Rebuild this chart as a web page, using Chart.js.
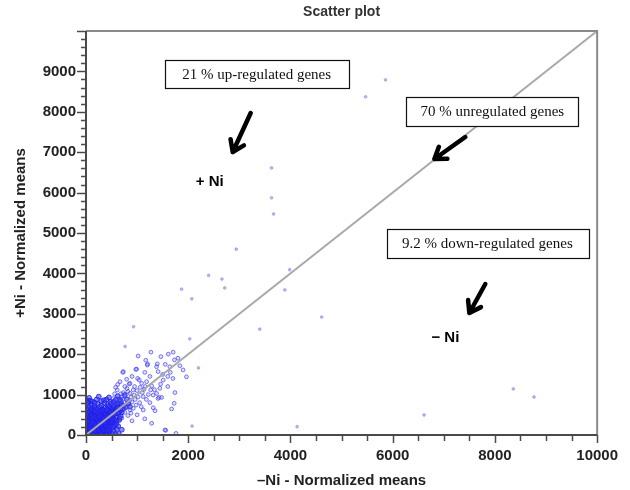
<!DOCTYPE html>
<html>
<head>
<meta charset="utf-8">
<script src="https://cdn.jsdelivr.net/npm/chart.js@4.4.1/dist/chart.umd.min.js"></script>
<style>
  html, body { margin: 0; padding: 0; background: #fff; }
  #wrap { width: 630px; height: 490px; }
</style>
</head>
<body>
<div id="wrap"><canvas id="chartScatter" width="630" height="490"></canvas></div>
<script>
// valores (-Ni en x, +Ni en y)
const diagX = [0, 10000];
const diagY = [0, 10000];

const xMajorTicks = [0, 2000, 4000, 6000, 8000, 10000];
const yMajorTicks = [0, 1000, 2000, 3000, 4000, 5000, 6000, 7000, 8000, 9000];

const outlierPoints = [
  [5860, 8790], [5470, 8370], [3630, 6610], [3630, 5870], [3670, 5470], [2940, 4600],
  [2400, 3950], [2660, 3860], [2715, 3640], [1870, 3610], [2070, 3370], [3985, 4090],
  [3890, 3590], [3400, 2620], [4610, 2920], [930, 2680], [2030, 2380], [765, 2190],
  [2200, 1660], [2075, 220], [4130, 205], [6615, 495], [8360, 1140], [8765, 940]
];

const spreadPoints = [
  [1705, 2050], [1610, 2000], [1465, 1940], [1730, 1860], [1395, 1760], [1380, 1690],
  [1640, 1690], [1835, 1715], [1900, 1610], [1410, 1570], [1965, 1440], [1510, 1360],
  [1285, 1215], [1445, 1155], [1380, 1030], [1480, 930], [1740, 1050], [1315, 675],
  [1675, 645], [1560, 115], [1760, 40], [1270, 2050], [1020, 1955], [1205, 1760],
  [1170, 1850], [730, 1570], [975, 1625], [1010, 1400], [1040, 1360], [795, 1380],
  [860, 1280], [1090, 1280], [1185, 1320], [925, 1115], [730, 1050], [1135, 1130],
  [1265, 1115], [1315, 990], [1430, 930], [700, 950], [1120, 950], [990, 1630],
  [1200, 1730], [720, 1550], [665, 1320], [845, 1260], [610, 1115], [860, 1030],
  [1410, 905], [1725, 785], [535, 905], [925, 660], [1120, 620], [1285, 290],
  [1545, 125], [1600, 1450], [1250, 1450], [900, 1450], [1050, 800], [850, 850],
  [780, 700], [1000, 500], [1150, 400], [1350, 600], [1600, 1200], [1700, 1400],
  [1800, 1900], [1500, 1500], [1150, 1550], [950, 1200], [800, 1150], [700, 800],
  [900, 350], [1250, 800], [1100, 1050], [1550, 1750],
  [620, 1250], [680, 1020], [760, 960], [820, 1080], [880, 940], [940, 990], [1000, 1100],
  [1060, 1180], [760, 1200], [560, 1020], [600, 900], [650, 850], [720, 880], [840, 760],
  [900, 820], [960, 880], [1020, 940], [1180, 880], [860, 620], [980, 740], [1080, 700],
  [760, 560], [820, 480], [700, 420], [880, 540], [1220, 1000], [1340, 1120], [580, 1180],
  [540, 760], [1460, 1260], [1160, 1200], [1650, 1550]
];

const corePoints = [
  [10, 20], [40, 10], [70, 50], [100, 20], [130, 60], [160, 10], [190, 40], [220, 70], [250, 20],
  [280, 50], [310, 10], [340, 40], [380, 20], [420, 30], [470, 10], [520, 40], [580, 20], [640, 30],
  [30, 70], [60, 90], [90, 80], [120, 95], [200, 90], [300, 85], [450, 80],
  [10, 120], [40, 150], [70, 130], [100, 170], [130, 120], [160, 180], [190, 140], [220, 110],
  [250, 170], [280, 130], [310, 190], [340, 150], [370, 110], [400, 170], [440, 130], [490, 160],
  [540, 120], [600, 150], [20, 190], [80, 190], [140, 160], [230, 190], [360, 180], [700, 130],
  [15, 230], [45, 260], [75, 220], [105, 280], [135, 240], [165, 270], [195, 220], [225, 290],
  [255, 240], [285, 270], [315, 220], [345, 280], [375, 240], [410, 270], [450, 230], [500, 280],
  [560, 250], [630, 220], [60, 290], [180, 300], [300, 300],
  [20, 330], [50, 370], [80, 320], [110, 360], [140, 330], [170, 390], [200, 350], [230, 320],
  [260, 380], [290, 340], [320, 390], [350, 330], [380, 370], [420, 340], [460, 390], [510, 350],
  [570, 320], [650, 370], [100, 400], [240, 400],
  [10, 430], [40, 470], [70, 420], [110, 450], [150, 490], [190, 430], [230, 470], [270, 420],
  [310, 460], [350, 490], [390, 430], [430, 470], [480, 420], [530, 480], [600, 440], [680, 470],
  [200, 500], [380, 500],
  [30, 530], [70, 580], [110, 540], [150, 570], [190, 520], [240, 590], [280, 540], [330, 570],
  [380, 530], [430, 580], [480, 540], [540, 590], [610, 530], [700, 560], [260, 500],
  [20, 640], [60, 690], [120, 620], [170, 670], [220, 630], [270, 690], [320, 640], [380, 680],
  [430, 630], [490, 670], [550, 630], [620, 690], [720, 640], [780, 690],
  [40, 740], [100, 780], [170, 720], [230, 770], [300, 730], [360, 790], [420, 740], [490, 780],
  [560, 730], [650, 770], [740, 730], [820, 780],
  [20, 860], [120, 830], [210, 880], [300, 840], [400, 880], [480, 820], [580, 870], [680, 840],
  [800, 880], [60, 920], [250, 950], [450, 930], [620, 960], [760, 990],
  [55, 45], [85, 35], [145, 85], [175, 65], [205, 15], [235, 45], [265, 85], [325, 65], [355, 95],
  [395, 55], [25, 105], [115, 135], [205, 125], [295, 155], [385, 145], [55, 205], [145, 215],
  [265, 205], [355, 215], [95, 245], [215, 255], [335, 255], [35, 305], [155, 305], [275, 315],
  [395, 305], [125, 375], [215, 385], [305, 365], [65, 355], [185, 445], [295, 435], [405, 415],
  [25, 15], [50, 60], [80, 100], [110, 55], [140, 30], [170, 120], [200, 170], [240, 140],
  [260, 60], [290, 100], [320, 130], [330, 200], [360, 250], [390, 200], [420, 230], [440, 300],
  [470, 270], [480, 340], [500, 410], [520, 320], [550, 380], [30, 400], [60, 450], [90, 500],
  [130, 420], [160, 460], [210, 410], [250, 450], [280, 480], [330, 430], [360, 410], [400, 460],
  [440, 510], [470, 560], [500, 500], [560, 520], [590, 600], [520, 660], [450, 700], [400, 620],
  [340, 610], [290, 600], [230, 560], [170, 600], [130, 660], [90, 620], [50, 560], [15, 500],
  [75, 260], [125, 300], [185, 260], [245, 300], [305, 260], [365, 300], [20, 280], [45, 330],
  [95, 140], [185, 90], [250, 110], [300, 50], [350, 120], [410, 110], [460, 200], [530, 200],
  [590, 270], [600, 360], [660, 420], [640, 560], [680, 620], [600, 640], [540, 700], [600, 760],
  [700, 740], [660, 880], [540, 820], [350, 860], [170, 800], [80, 850], [35, 800], [860, 700]
];

// cajas de texto y flechas (en unidades de los ejes)
const notas = [
  { texto: "21 % up-regulated genes", x0: 1543, x1: 5136, y0: 9281, y1: 8588 },
  { texto: "70 % unregulated genes", x0: 6269, x1: 9628, y0: 8366, y1: 7648 },
  { texto: "9.2 % down-regulated genes", x0: 5879, x1: 9824, y0: 5099, y1: 4381 }
];
const flechas = [
  { desde: [3222, 7970], hasta: [2871, 7004] },
  { desde: [7421, 7376], hasta: [6816, 6831] },
  { desde: [7812, 3737], hasta: [7500, 3020] }
];
const etiquetas = [
  { texto: "+ Ni", x: 2422, y: 6254 },
  { texto: "\u2212 Ni", x: 7031, y: 2393 }
];

function aPuntos(lista) {
  return lista.map(([x, y]) => ({ x, y }));
}

function dibujarFlecha(ctx, x1, y1, x2, y2) {
  const ang = Math.atan2(y2 - y1, x2 - x1);
  const largo = 13;
  ctx.beginPath();
  ctx.moveTo(x1, y1);
  ctx.lineTo(x2, y2);
  ctx.moveTo(x2 - largo * Math.cos(ang - 0.6), y2 - largo * Math.sin(ang - 0.6));
  ctx.lineTo(x2, y2);
  ctx.lineTo(x2 - largo * Math.cos(ang + 0.6), y2 - largo * Math.sin(ang + 0.6));
  ctx.stroke();
}

const extras = {
  id: "extras",
  afterDraw(chart) {
    const ctx = chart.ctx;
    const { left, right, top, bottom } = chart.chartArea;
    const sx = chart.scales.x;
    const sy = chart.scales.y;
    ctx.save();

    // marco
    ctx.lineWidth = 2;
    ctx.strokeStyle = "#8a8a8a";
    ctx.beginPath();
    ctx.moveTo(left, top);
    ctx.lineTo(right, top);
    ctx.lineTo(right, bottom);
    ctx.stroke();
    ctx.strokeStyle = "#4a4a4a";
    ctx.beginPath();
    ctx.moveTo(left, top);
    ctx.lineTo(left, bottom);
    ctx.lineTo(right, bottom);
    ctx.stroke();

    // marcas de los ejes
    ctx.lineWidth = 1.5;
    sx.ticks.forEach((t) => {
      const px = Math.round(sx.getPixelForValue(t.value)) + 0.5;
      const len = xMajorTicks.includes(t.value) ? 8 : 6;
      ctx.beginPath();
      ctx.moveTo(px, bottom);
      ctx.lineTo(px, bottom + len);
      ctx.stroke();
    });
    sy.ticks.forEach((t) => {
      const py = Math.round(sy.getPixelForValue(t.value)) + 0.5;
      const len = t.value % 1000 === 0 ? 9 : 5;
      ctx.beginPath();
      ctx.moveTo(left - len, py);
      ctx.lineTo(left, py);
      ctx.stroke();
    });

    // titulo
    ctx.fillStyle = "#333";
    ctx.font = "bold 14px 'Liberation Sans', Arial, sans-serif";
    ctx.textAlign = "center";
    ctx.textBaseline = "middle";
    ctx.fillText("Scatter plot", (left + right) / 2, 12);

    // cajas
    ctx.font = "15px 'Liberation Serif', 'Times New Roman', serif";
    notas.forEach((n) => {
      const x0 = sx.getPixelForValue(n.x0);
      const x1 = sx.getPixelForValue(n.x1);
      const y0 = sy.getPixelForValue(n.y0);
      const y1 = sy.getPixelForValue(n.y1);
      ctx.fillStyle = "#fff";
      ctx.fillRect(x0, y0, x1 - x0, y1 - y0);
      ctx.lineWidth = 1.2;
      ctx.strokeStyle = "#111";
      ctx.strokeRect(Math.round(x0) + 0.5, Math.round(y0) + 0.5, Math.round(x1 - x0), Math.round(y1 - y0));
      ctx.fillStyle = "#111";
      ctx.fillText(n.texto, (x0 + x1) / 2, (y0 + y1) / 2 + 1);
    });

    // flechas
    ctx.strokeStyle = "#000";
    ctx.lineWidth = 4.5;
    ctx.lineCap = "round";
    ctx.lineJoin = "round";
    flechas.forEach((f) => {
      dibujarFlecha(ctx,
        sx.getPixelForValue(f.desde[0]), sy.getPixelForValue(f.desde[1]),
        sx.getPixelForValue(f.hasta[0]), sy.getPixelForValue(f.hasta[1]));
    });

    ctx.fillStyle = "#000";
    ctx.font = "bold 15px 'Liberation Sans', Arial, sans-serif";
    etiquetas.forEach((e) => {
      ctx.fillText(e.texto, sx.getPixelForValue(e.x), sy.getPixelForValue(e.y));
    });

    ctx.restore();
  }
};

const fuenteEje = { family: "'Liberation Sans', Arial, sans-serif", size: 15, weight: "bold" };

new Chart(document.getElementById("chartScatter"), {
  type: "scatter",
  data: {
    datasets: [
      {
        type: "line",
        label: "diagonal",
        data: diagX.map((x, i) => ({ x, y: diagY[i] })),
        borderColor: "#a9a9a9",
        borderWidth: 2,
        pointRadius: 0,
        fill: false
      },
      {
        label: "outliers",
        data: aPuntos(outlierPoints),
        pointRadius: 1.4,
        borderWidth: 0.5,
        borderColor: "rgba(110,110,215,0.8)",
        backgroundColor: "rgba(130,130,225,0.55)"
      },
      {
        label: "spread",
        data: aPuntos(spreadPoints),
        pointRadius: 1.9,
        borderWidth: 0.9,
        borderColor: "rgba(60,60,240,0.75)",
        backgroundColor: "rgba(100,100,240,0.2)"
      },
      {
        label: "core",
        data: aPuntos(corePoints),
        pointRadius: 2.4,
        borderWidth: 1,
        borderColor: "rgba(30,30,235,0.85)",
        backgroundColor: "rgba(50,50,235,0.55)"
      }
    ]
  },
  options: {
    responsive: false,
    animation: false,
    layout: { padding: { top: 31, right: 32, bottom: 0, left: 0 } },
    plugins: { legend: { display: false }, tooltip: { enabled: false }, title: { display: false } },
    scales: {
      x: {
        type: "linear",
        min: 0,
        max: 10000,
        grid: { display: false, drawTicks: false },
        border: { display: false },
        ticks: {
          stepSize: 500,
          autoSkip: false,
          maxRotation: 0,
          padding: 12,
          color: "#222",
          font: fuenteEje,
          callback: (v) => (xMajorTicks.includes(v) ? String(v) : "")
        },
        title: {
          display: true,
          text: "\u2013Ni - Normalized means",
          color: "#222",
          font: fuenteEje,
          padding: { top: 0, bottom: 0 }
        },
        afterFit: (s) => { s.height = 55; }
      },
      y: {
        type: "linear",
        min: 0,
        max: 10000,
        grid: { display: false, drawTicks: false },
        border: { display: false },
        ticks: {
          stepSize: 200,
          autoSkip: false,
          padding: 10,
          color: "#222",
          font: fuenteEje,
          callback: (v) => (yMajorTicks.includes(v) ? String(v) : "")
        },
        title: {
          display: true,
          text: "+Ni - Normalized means",
          color: "#222",
          font: fuenteEje,
          padding: { top: 12, bottom: 0 }
        },
        afterFit: (s) => { s.width = 86; }
      }
    }
  },
  plugins: [extras]
});
</script>
</body>
</html>
